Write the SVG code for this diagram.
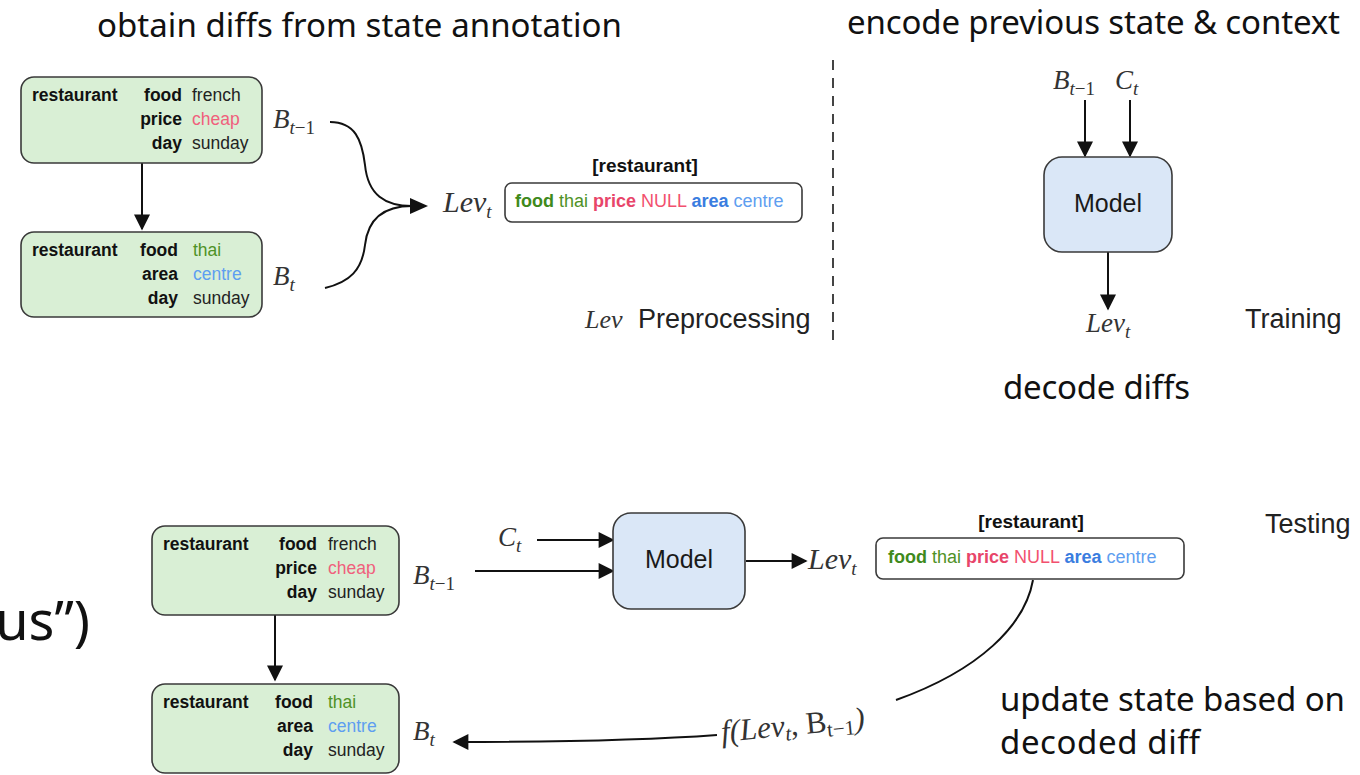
<svg xmlns="http://www.w3.org/2000/svg" width="1360" height="775" viewBox="0 0 1360 775">
<style>
.hdr{font-family:"Noto Sans",Lato,sans-serif;font-size:33px;fill:#111}
.st{fill:#d9efd5;stroke:#3a3a3a;stroke-width:1.6}
.md{fill:#dae7f7;stroke:#3a3a3a;stroke-width:1.6}
.df{fill:#fff;stroke:#3a3a3a;stroke-width:1.6}
.t{font-family:"Liberation Sans",Arial,sans-serif;font-size:17.5px;fill:#222}
.b{font-weight:bold;fill:#111}
.k{font-weight:bold;fill:#111;text-anchor:end}
.d{font-family:"Liberation Sans",Arial,sans-serif;font-size:18px}
.lbl{font-family:"Liberation Sans",Arial,sans-serif;font-size:27px;fill:#222}
.mdl{font-family:"Liberation Sans",Arial,sans-serif;font-size:25px;fill:#1a1a1a;text-anchor:middle}
.m{font-family:"Liberation Serif","Times New Roman",serif;font-style:italic;font-size:27px;fill:#333}
.sub{font-size:19px}
.up{font-style:normal}
.ln{fill:none;stroke:#111;stroke-width:2}
.ch{fill:#f0607c}
.g1{fill:#3f8a1c;font-weight:bold}.g2{fill:#4f9226}
.r1{fill:#e8456a;font-weight:bold}.r2{fill:#f2506e}
.bl1{fill:#3a7de0;font-weight:bold}.bl2{fill:#5e9ef0}
</style>
<defs>
<marker id="ah2" viewBox="0 0 10 10" refX="9" refY="5" markerWidth="18" markerHeight="16" markerUnits="userSpaceOnUse" orient="auto">
<path d="M0,0 L10,5 L0,10 z" fill="#111"/>
</marker>
</defs>

<!-- headings -->
<text class="hdr" x="97" y="37" textLength="525">obtain diffs from state annotation</text>
<text class="hdr" x="847" y="34" textLength="493">encode previous state &amp; context</text>
<text class="hdr" x="1003" y="399" textLength="187">decode diffs</text>
<text class="hdr" x="1000" y="711" textLength="345">update state based on</text>
<text class="hdr" x="1000" y="754" textLength="200">decoded diff</text>
<text class="hdr" x="90" y="640" text-anchor="end" style="font-size:54px">us”)</text>

<!-- connectors -->
<g id="connectors">
<line class="ln" x1="142" y1="163" x2="142" y2="229" marker-end="url(#ah2)"/>
<path class="ln" d="M330,122 C355,122 362,140 365,165 C368,195 385,206 412,206"/>
<path class="ln" d="M325,288 C350,282 362,270 365,245 C368,218 385,206 412,206"/>
<path d="M410,198 L428,206 L410,214 z" fill="#111"/>
<line x1="833" y1="60" x2="833" y2="340" stroke="#444" stroke-width="2" stroke-dasharray="10,8"/>
<line class="ln" x1="1085" y1="100" x2="1085" y2="156" marker-end="url(#ah2)"/>
<line class="ln" x1="1130" y1="100" x2="1130" y2="156" marker-end="url(#ah2)"/>
<line class="ln" x1="1108" y1="252" x2="1108" y2="309" marker-end="url(#ah2)"/>
<line class="ln" x1="275" y1="615" x2="275" y2="680" marker-end="url(#ah2)"/>
<line class="ln" x1="537" y1="540" x2="613" y2="540" marker-end="url(#ah2)"/>
<line class="ln" x1="475" y1="571" x2="613" y2="571" marker-end="url(#ah2)"/>
<line class="ln" x1="746" y1="561" x2="806" y2="561" marker-end="url(#ah2)"/>
<path class="ln" d="M1033,580 C1025,625 980,670 896,700"/>
<path class="ln" d="M717,735 C650,740 560,742 454,742" marker-end="url(#ah2)"/>
</g>

<!-- top-left states -->
<g id="state-prev-top">
<rect class="st" x="21" y="77" width="241" height="86" rx="13"/>
<text class="t b" x="32" y="101">restaurant</text>
<text class="t k" x="182" y="101">food</text><text class="t" x="192" y="101">french</text>
<text class="t k" x="182" y="125">price</text><text class="t ch" x="192" y="125">cheap</text>
<text class="t k" x="182" y="149">day</text><text class="t" x="192" y="149">sunday</text>
</g>
<g id="state-cur-top">
<rect class="st" x="21" y="232" width="241" height="85" rx="13"/>
<text class="t b" x="32" y="256">restaurant</text>
<text class="t k" x="178" y="256">food</text><text class="t g2" x="193" y="256">thai</text>
<text class="t k" x="178" y="280">area</text><text class="t bl2" x="193" y="280">centre</text>
<text class="t k" x="178" y="304">day</text><text class="t" x="193" y="304">sunday</text>
</g>
<g id="labels-top">
<text class="m" x="273" y="128">B<tspan class="sub" dy="6">t</tspan><tspan class="sub up">−1</tspan></text>
<text class="m" x="273" y="285">B<tspan class="sub" dy="6">t</tspan></text>
<text class="m" x="443" y="212" style="font-size:30px">Lev<tspan class="sub" dy="6">t</tspan></text>
</g>
<g id="diff-top">
<text class="d b" x="645" y="172" text-anchor="middle" style="font-size:19px">[restaurant]</text>
<rect class="df" x="505" y="183" width="297" height="39" rx="7"/>
<text class="d" x="515" y="207"><tspan class="g1">food</tspan> <tspan class="g2">thai</tspan> <tspan class="r1">price</tspan> <tspan class="r2">NULL</tspan> <tspan class="bl1">area</tspan> <tspan class="bl2">centre</tspan></text>
</g>
<g id="preprocessing-label">
<text class="m" x="585" y="328" style="font-size:26px">Lev</text>
<text class="lbl" x="638" y="328">Preprocessing</text>
</g>

<!-- training -->
<g id="training">
<text class="m" x="1053" y="89">B<tspan class="sub" dy="6">t</tspan><tspan class="sub up">−1</tspan></text>
<text class="m" x="1115" y="89">C<tspan class="sub" dy="6">t</tspan></text>
<rect class="md" x="1044" y="157" width="128" height="95" rx="18"/>
<text class="mdl" x="1108" y="212">Model</text>
<text class="m" x="1086" y="332">Lev<tspan class="sub" dy="6">t</tspan></text>
<text class="lbl" x="1245" y="328">Training</text>
</g>

<!-- testing -->
<g id="state-prev-bottom">
<rect class="st" x="152" y="526" width="247" height="89" rx="13"/>
<text class="t b" x="163" y="550">restaurant</text>
<text class="t k" x="317" y="550">food</text><text class="t" x="328" y="550">french</text>
<text class="t k" x="317" y="574">price</text><text class="t ch" x="328" y="574">cheap</text>
<text class="t k" x="317" y="598">day</text><text class="t" x="328" y="598">sunday</text>
</g>
<g id="state-cur-bottom">
<rect class="st" x="152" y="684" width="247" height="89" rx="13"/>
<text class="t b" x="163" y="708">restaurant</text>
<text class="t k" x="313" y="708">food</text><text class="t g2" x="328" y="708">thai</text>
<text class="t k" x="313" y="732">area</text><text class="t bl2" x="328" y="732">centre</text>
<text class="t k" x="313" y="756">day</text><text class="t" x="328" y="756">sunday</text>
</g>
<g id="labels-bottom">
<text class="m" x="413" y="584">B<tspan class="sub" dy="6">t</tspan><tspan class="sub up">−1</tspan></text>
<text class="m" x="413" y="740">B<tspan class="sub" dy="6">t</tspan></text>
<text class="m" x="498" y="546">C<tspan class="sub" dy="6">t</tspan></text>
<text class="m" x="808" y="569" style="font-size:30px">Lev<tspan class="sub" dy="6">t</tspan></text>
</g>
<g id="model-test">
<rect class="md" x="613" y="513" width="132" height="96" rx="18"/>
<text class="mdl" x="679" y="568">Model</text>
</g>
<g id="diff-bottom">
<text class="d b" x="1031" y="528" text-anchor="middle" style="font-size:19px">[restaurant]</text>
<rect class="df" x="876" y="538" width="308" height="41" rx="7"/>
<text class="d" x="888" y="563"><tspan class="g1">food</tspan> <tspan class="g2">thai</tspan> <tspan class="r1">price</tspan> <tspan class="r2">NULL</tspan> <tspan class="bl1">area</tspan> <tspan class="bl2">centre</tspan></text>
</g>
<g id="update-fn">
<text class="m" x="722" y="742" transform="rotate(-5.5 722 742)" style="font-size:31px">f(Lev<tspan style="font-size:21px" dy="5">t</tspan><tspan dy="-5">, </tspan><tspan class="up">B</tspan><tspan class="up" style="font-size:21px" dy="5">t−1</tspan><tspan dy="-5">)</tspan></text>
</g>
<text class="lbl" x="1265" y="533">Testing</text>
</svg>
